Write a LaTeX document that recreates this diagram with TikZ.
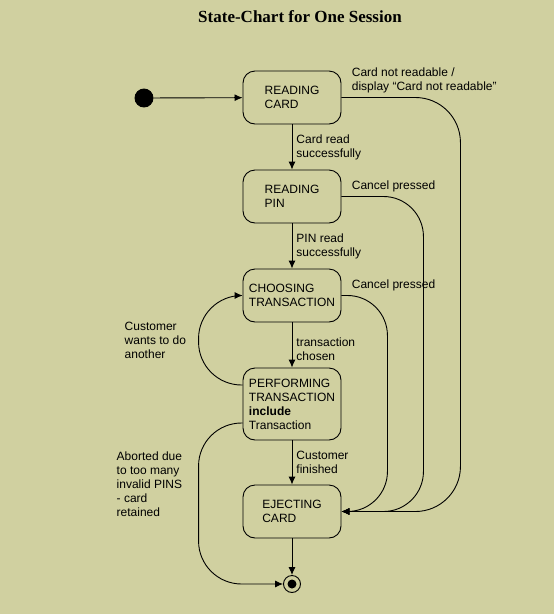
\documentclass[tikz,border=0pt]{standalone}
\usepackage{fontspec}
\setmainfont{Liberation Sans}
\newfontfamily\titlefont{Liberation Serif}
\usetikzlibrary{shapes,arrows,arrows.meta,positioning,calc}
\definecolor{paper}{RGB}{208,208,160}
\tikzset{
state/.style = {draw, rectangle, rounded corners=12pt, align=left, minimum height=53pt, minimum width=98pt, font=\fontsize{12}{14}\selectfont},
tall/.style  = {minimum height=72pt},
init/.style  = {draw, fill, circle, minimum size=18pt, inner sep=0pt},
final/.style = {draw, circle, minimum size=17pt, inner sep=0pt, path picture={\fill (path picture bounding box.center) circle (4.5pt);}},
lbl/.style   = {align=left, font=\fontsize{12}{14}\selectfont, inner sep=4pt},
side/.style  = {lbl, anchor=south west, xshift=6pt},
tmp/.style   = {coordinate}
}

\begin{document}
\begin{tikzpicture}[auto, x=1pt, y=1pt, node distance=99pt, line width=0.9pt, >={Latex[length=8pt,width=7pt]}]
        \fill [paper] (0,0) rectangle (554,-614);
        \useasboundingbox (0,0) rectangle (554,-614);
        \node [font=\titlefont\bfseries\fontsize{17}{19}\selectfont] (title) at (300,-17) {State-Chart for One Session};
        \node [init] (start) at (144,-98) {};
        \node [state] (rc) at (292,-97.5) {READING\\CARD};
        \node [state, below of=rc] (rp) {READING\\PIN};
        \node [state, below of=rp] (ch) {CHOOSING\\TRANSACTION};
        \node [state, tall, below of=ch, node distance=108.5pt] (pf) {PERFORMING\\TRANSACTION\\\textbf{include}\\Transaction};
        \node [state, below of=pf, node distance=107.5pt] (ej) {EJECTING\\CARD};
        \node [final, below of=ej, node distance=72.5pt] (end) {};
        \node [tmp] (k1) at ($(rc.east)+(119,0)$) {};
        \node [tmp] (k2) at ($(rp.east)+(82,0)$) {};
        \node [tmp] (k3) at ($(ch.east)+(46,0)$) {};
        \node [tmp] (k4) at ($(pf.west)+(-44,19)$) {};
        \node [tmp] (k5) at ($(pf.west)+(-44,-19)$) {};
        \draw [->] (start) -- (rc);
        \draw [->] (rc) -- node [lbl] (l1) {Card read\\successfully} (rp);
        \draw [->] (rp) -- node [lbl] (l2) {PIN read\\successfully} (ch);
        \draw [->] (ch) -- node [lbl, pos=0.6] (l3) {transaction\\chosen} (pf);
        \draw [->] (pf) -- node [lbl] (l4) {Customer\\finished} (ej);
        \draw [->] (ej) -- (end);
        \draw [->, rounded corners=45pt] (rc.east) node [side] (l5) {Card not readable /\\display “Card not readable”} -- (k1) |- (ej.east);
        \draw [->, rounded corners=40pt] (rp.east) node [side] (l6) {Cancel pressed} -- (k2) |- (ej.east);
        \draw [->, rounded corners=40pt] (ch.east) node [side] (l7) {Cancel pressed} -- (k3) |- (ej.east);
        \draw [->, rounded corners=43pt] ([yshift=19pt]pf.west) -- (k4) |- node [lbl, pos=0.25, left=8pt] (l8) {Customer\\wants to do\\another} (ch.west);
        \draw [->, rounded corners=43pt] ([yshift=-19pt]pf.west) -- (k5) |- node [lbl, pos=0.19, left=12pt] (l9) {Aborted due\\to too many\\invalid PINS\\- card\\retained} (end.west);
\end{tikzpicture}
\end{document}
